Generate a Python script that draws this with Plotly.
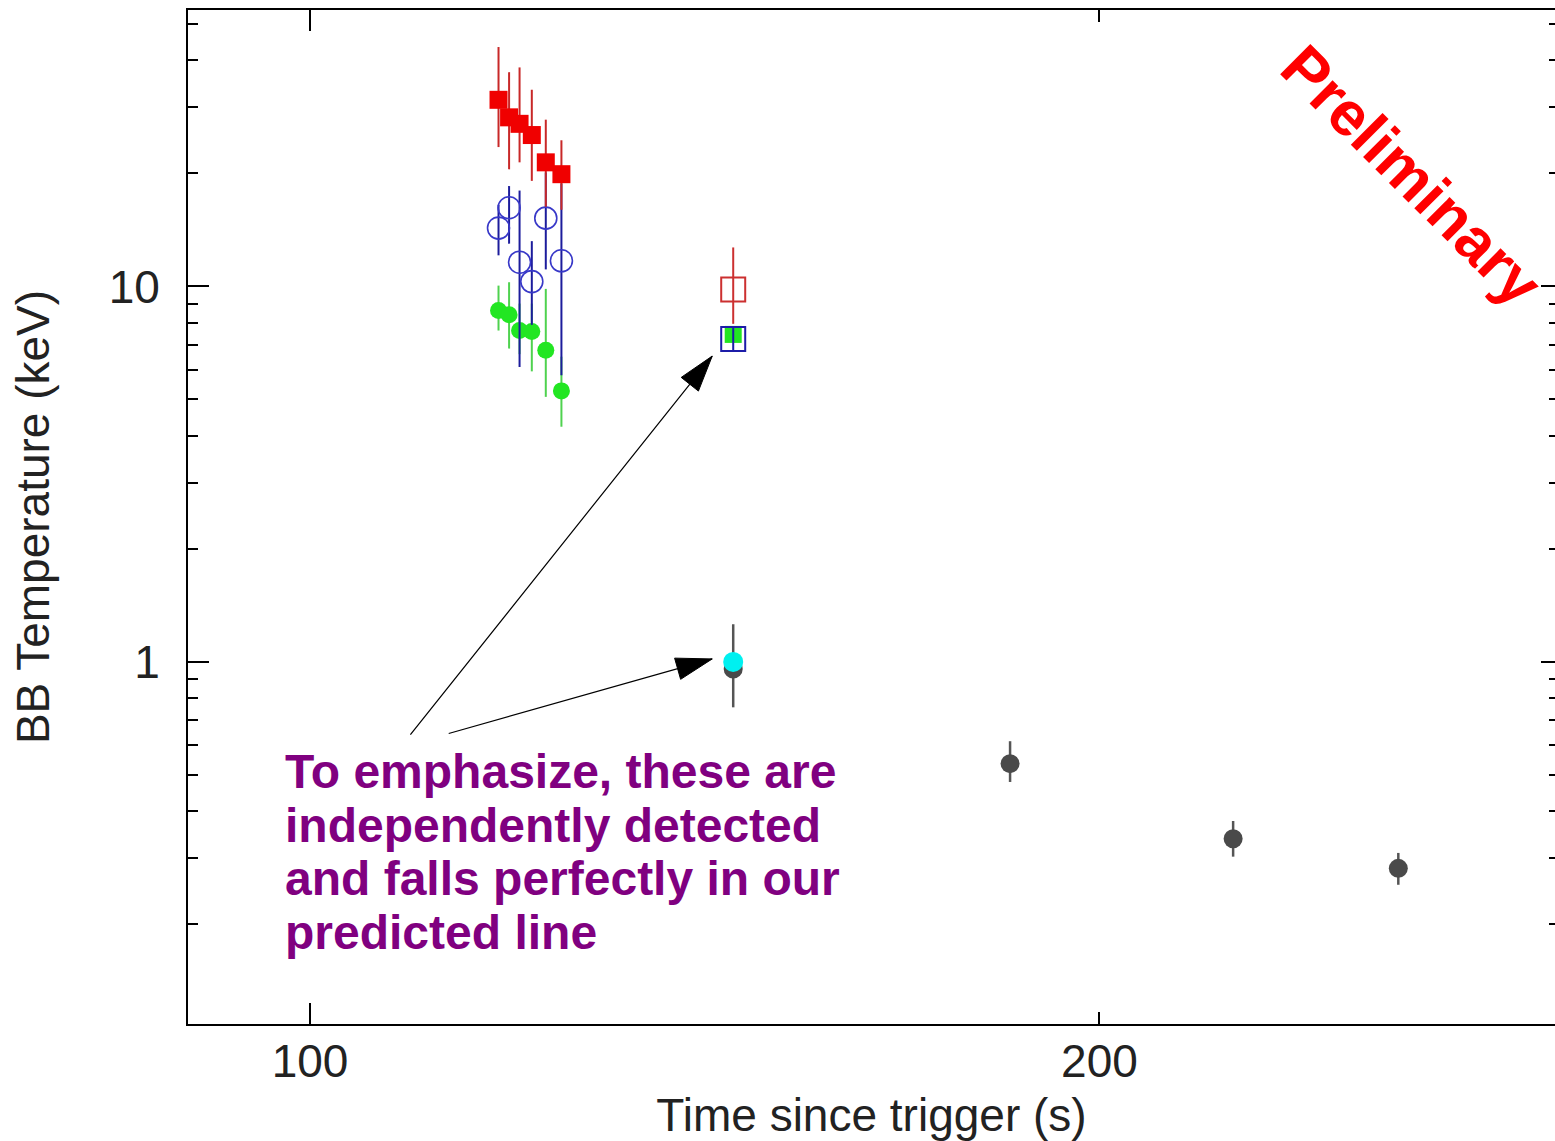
import numpy as np
import plotly.graph_objects as go

# ---- early-time fits (three spectral components) ----
t_early = [118.0, 119.1, 120.2, 121.5, 123.0, 124.7]

red_T = [31.4, 28.2, 27.1, 25.3, 21.4, 19.9]
red_hi = [43.4, 37.2, 38.3, 33.4, 27.8, 24.5]
red_lo = [23.5, 20.5, 21.4, 19.1, 16.3, 16.0]

blue_T = [14.3, 16.2, 11.6, 10.3, 15.2, 11.7]
blue_hi = [16.5, 18.5, 18.0, 13.2, 20.1, 18.8]
blue_lo = [12.1, 13.0, 6.1, 7.9, 11.1, 5.8]

green_T = [8.63, 8.40, 7.63, 7.59, 6.76, 5.27]
green_hi = [10.05, 10.26, 9.0, 9.0, 9.85, 6.5]
green_lo = [7.63, 6.83, 6.6, 5.94, 5.08, 4.23]

# ---- independent detection at ~145 s ----
t_mid = [145.0]
red_open_T, red_open_hi, red_open_lo = [9.81], [12.7], [7.95]
blue_open_T, blue_open_hi, blue_open_lo = [7.24], [7.8], [6.7]
green_mid_T = [7.45]
cyan_T = [1.0]
gray_mid_T, gray_mid_hi, gray_mid_lo = [0.957], [1.26], [0.757]

# ---- late-time blackbody ----
t_late = [184.9, 224.9, 260.0]
gray_T = [0.536, 0.338, 0.282]
gray_hi = [0.615, 0.377, 0.310]
gray_lo = [0.479, 0.303, 0.255]

# axis ticks
y_major = [1, 10]
y_minor = [0.2, 0.3, 0.4, 0.5, 0.6, 0.7, 0.8, 0.9,
           2, 3, 4, 5, 6, 7, 8, 9, 20, 30, 40, 50]
x_major = [100]
x_minor = [200]

note_lines = ["To emphasize, these are",
              "independently detected",
              "and falls perfectly in our",
              "predicted line"]

W, H = 1555, 1141
ML, MR, MT, MB = 188, 0, 10, 113
XR = [1.95348, 2.47472]
YR = [-0.9642, 1.7361]


def err(y, hi, lo, color, thick):
    y, hi, lo = map(np.asarray, (y, hi, lo))
    return dict(type="data", symmetric=False, array=hi - y, arrayminus=y - lo,
                color=color, thickness=thick, width=0)


fig = go.Figure()

# green filled circles
fig.add_trace(go.Scatter(
    x=t_early, y=green_T, mode="markers",
    marker=dict(symbol="circle", size=17, color="#22e622"),
    error_y=err(green_T, green_hi, green_lo, "#4fd24f", 2)))
# blue open circles
fig.add_trace(go.Scatter(
    x=t_early, y=blue_T, mode="markers",
    marker=dict(symbol="circle-open", size=22, color="#3838c8", line=dict(width=1.6)),
    error_y=err(blue_T, blue_hi, blue_lo, "#1c1c9c", 2)))
# red filled squares
fig.add_trace(go.Scatter(
    x=t_early, y=red_T, mode="markers",
    marker=dict(symbol="square", size=18, color="#f00000"),
    error_y=err(red_T, red_hi, red_lo, "#c82828", 2)))

# points at ~145 s
fig.add_trace(go.Scatter(
    x=t_mid, y=green_mid_T, mode="markers",
    marker=dict(symbol="square", size=17, color="#22e622")))
fig.add_trace(go.Scatter(
    x=t_mid, y=blue_open_T, mode="markers",
    marker=dict(symbol="square-open", size=24, color="#1c1ca8", line=dict(width=2)),
    error_y=err(blue_open_T, blue_open_hi, blue_open_lo, "#1c1ca8", 2)))
fig.add_trace(go.Scatter(
    x=t_mid, y=red_open_T, mode="markers",
    marker=dict(symbol="square-open", size=24, color="#cc3030", line=dict(width=2)),
    error_y=err(red_open_T, red_open_hi, red_open_lo, "#cc3030", 2)))
fig.add_trace(go.Scatter(
    x=t_mid, y=gray_mid_T, mode="markers",
    marker=dict(symbol="circle", size=19, color="#4a4a4a"),
    error_y=err(gray_mid_T, gray_mid_hi, gray_mid_lo, "#555555", 2.5)))
fig.add_trace(go.Scatter(
    x=t_mid, y=cyan_T, mode="markers",
    marker=dict(symbol="circle", size=20, color="#00f0f0")))

# late-time points
fig.add_trace(go.Scatter(
    x=t_late, y=gray_T, mode="markers",
    marker=dict(symbol="circle", size=19, color="#4a4a4a"),
    error_y=err(gray_T, gray_hi, gray_lo, "#555555", 2.5)))

# empty trace so the overlaid secondary axes (labels / right-hand ticks) are drawn
fig.add_trace(go.Scatter(x=[], y=[], xaxis="x2", yaxis="y2",
                         mode="markers", hoverinfo="skip"))

tickfont = dict(family="Liberation Sans, Arial, sans-serif", size=46, color="#222222")

fig.update_layout(
    width=W, height=H, autosize=False,
    margin=dict(l=ML, r=MR, t=MT, b=MB, pad=0),
    paper_bgcolor="white", plot_bgcolor="white",
    showlegend=False,
    xaxis=dict(
        type="log", range=XR, showgrid=False, zeroline=False,
        showline=True, linecolor="black", linewidth=2, mirror="ticks",
        ticks="inside", ticklen=21, tickwidth=2, tickcolor="black",
        tickmode="array", tickvals=x_major, ticktext=[str(v) for v in x_major],
        minor=dict(tickmode="array", tickvals=x_minor, ticks="inside",
                   ticklen=12, tickwidth=2, tickcolor="black", showgrid=False),
        tickfont=tickfont, ticklabelstandoff=-4,
        title=dict(text="Time since trigger (s)", font=tickfont, standoff=22),
    ),
    xaxis2=dict(
        type="log", range=XR, overlaying="x", anchor="y", side="bottom",
        showgrid=False, zeroline=False, showline=False, ticks="",
        tickmode="array", tickvals=x_minor, ticktext=[str(v) for v in x_minor],
        tickfont=tickfont, ticklabelstandoff=6,
    ),
    yaxis=dict(
        type="log", range=YR, showgrid=False, zeroline=False,
        showline=True, linecolor="black", linewidth=2, mirror=False,
        ticks="inside", ticklen=21, tickwidth=2, tickcolor="black",
        tickmode="array", tickvals=y_major, ticktext=[str(v) for v in y_major],
        minor=dict(tickmode="array", tickvals=y_minor, ticks="inside",
                   ticklen=10, tickwidth=2, tickcolor="black", showgrid=False),
        tickfont=tickfont, ticklabelstandoff=17,
        title=dict(text="BB Temperature (keV)", font=tickfont, standoff=45),
    ),
    yaxis2=dict(
        type="log", range=YR, overlaying="y", anchor="x", side="right",
        showgrid=False, zeroline=False, showline=False,
        ticks="inside", ticklen=14, tickwidth=2, tickcolor="black",
        tickmode="array", tickvals=y_major, showticklabels=False,
        minor=dict(tickmode="array", tickvals=y_minor, ticks="inside",
                   ticklen=6, tickwidth=2, tickcolor="black", showgrid=False),
    ),
)

# explanatory note, one annotation per line
note_font = dict(family="Liberation Sans, Arial, sans-serif", size=48, color="#800080")
line_centers = [775, 829, 882, 936]
for txt, py in zip(note_lines, line_centers):
    fig.add_annotation(
        text="<b>%s</b>" % txt, xref="paper", yref="paper",
        x=(283 - ML) / (W - ML - MR), y=(H - MB - py) / (H - MT - MB),
        xanchor="left", yanchor="middle", showarrow=False, font=note_font)

# "Preliminary" stamp
fig.add_annotation(
    text="<b>Preliminary</b>", xref="paper", yref="paper",
    x=(1412 - ML) / (W - ML - MR), y=(H - MB - 176) / (H - MT - MB),
    xanchor="center", yanchor="middle", showarrow=False, textangle=45,
    font=dict(family="Liberation Sans, Arial, sans-serif", size=62, color="#ff0000"))


# arrows from the note to the ~145 s detections
def arrow(x, y, dx_tip, dy_tip, ax, ay):
    # line (screen pixel offsets; ay positive downwards)
    fig.add_annotation(
        x=np.log10(x), y=np.log10(y), xref="x", yref="y",
        xshift=dx_tip, yshift=-dy_tip, text="", showarrow=True,
        arrowhead=0, arrowwidth=1.2, arrowcolor="black",
        ax=ax, ay=ay, axref="pixel", ayref="pixel", standoff=0)
    # filled triangular head, pixel offsets from the anchor (y up)
    u = np.array([-ax, ay], float)
    u /= np.hypot(*u)
    n = np.array([-u[1], u[0]])
    tip = np.array([dx_tip, -dy_tip], float)
    back = tip - 36 * u
    p1, p2 = back + 11 * n, back - 11 * n
    path = "M%.1f,%.1f L%.1f,%.1f L%.1f,%.1f Z" % (tip[0], tip[1], p1[0], p1[1], p2[0], p2[1])
    fig.add_shape(type="path", path=path, xref="x", yref="y",
                  xsizemode="pixel", ysizemode="pixel", xanchor=x, yanchor=y,
                  fillcolor="black", line=dict(color="black", width=1))


arrow(t_mid[0], blue_open_T[0], -21, 17, 409 - 712, 737 - 357)
arrow(t_mid[0], cyan_T[0], -21, -3, 447 - 712, 737 - 662)

fig.write_html("out.html")
